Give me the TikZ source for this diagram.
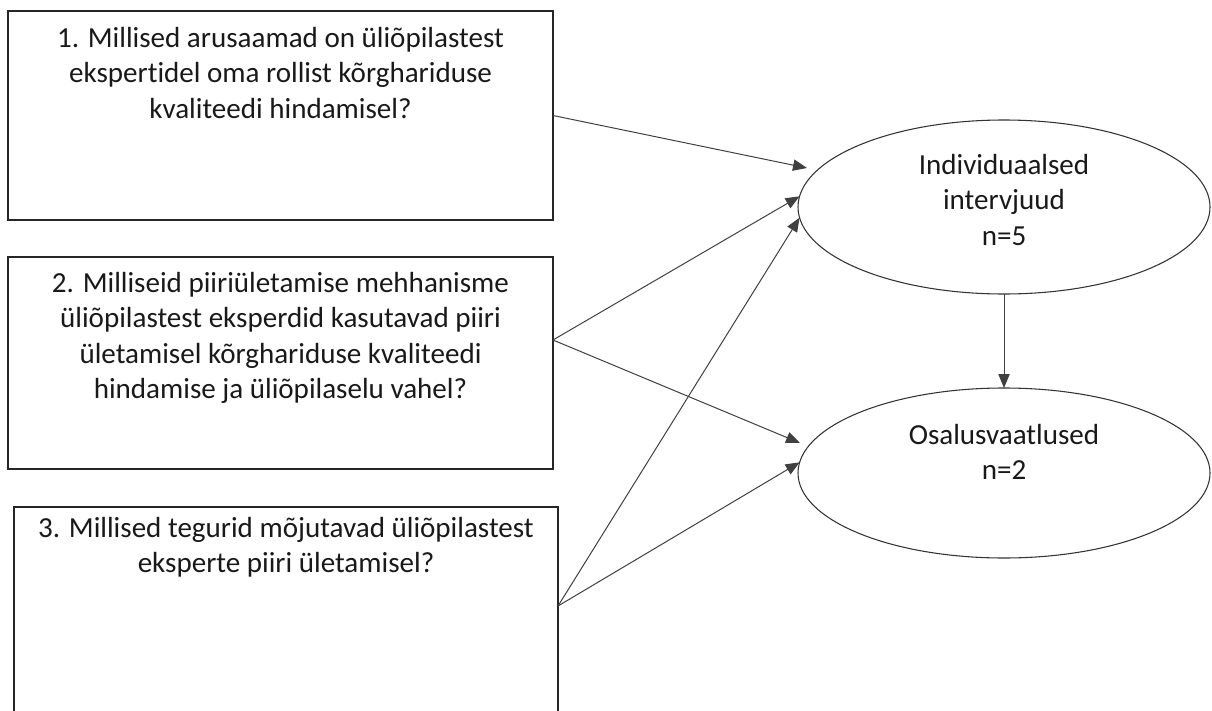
\documentclass[tikz,border=0pt]{standalone}
\usepackage{fontspec}
\setmainfont[Ligatures=NoCommon]{Carlito}
\usetikzlibrary{arrows.meta,shapes.geometric,calc}
\begin{document}
\begin{tikzpicture}[x=0.75pt,y=-0.75pt,
  qbox/.style={draw=black!85, line width=1.5pt, rectangle, inner sep=0pt, outer sep=0pt},
  qell/.style={draw=black!80, line width=0.8pt, ellipse, inner sep=0pt, outer sep=0pt, minimum width=309pt},
  qtext/.style={align=center, inner sep=0pt, anchor=north, font=\fontsize{21.8pt}{26.6pt}\selectfont, text=black!90},
  arr/.style={draw=black!75, line width=0.75pt, -{Triangle[length=10.5pt,width=8.5pt]}}]
\useasboundingbox (0,0) rectangle (1212,710);
\clip (0,0) rectangle (1212,710);
% boxes
\node[qbox, minimum width=408.75pt, minimum height=156.75pt] (b1) at (280.5,115.5) {};
\node[qbox, minimum width=408.75pt, minimum height=159pt] (b2) at (280.5,363) {};
\node[qbox, minimum width=408pt, minimum height=167pt] (b3) at (286,618.5) {};
% ellipses
\node[qell, minimum height=130.5pt] (e1) at (1004,207) {};
\node[qell, minimum height=127.5pt] (e2) at (1004,473) {};
% texts
\node[qtext] (tx1) at (280.5,27) {1. Millised arusaamad on üliõpilastest\\ekspertidel oma rollist kõrghariduse\\kvaliteedi hindamisel?};
\node[qtext] (tx2) at (280.5,272) {2. Milliseid piiriületamise mehhanisme\\üliõpilastest eksperdid kasutavad piiri\\ületamisel kõrghariduse kvaliteedi\\hindamise ja üliõpilaselu vahel?};
\node[qtext] (tx3) at (286,517) {3. Millised tegurid mõjutavad üliõpilastest\\eksperte piiri ületamisel?};
\node[qtext] (tx4) at (1004,154) {Individuaalsed\\intervjuud\\n=5};
\node[qtext] (tx5) at (1004,424) {Osalusvaatlused\\n=2};
% connector ends
\coordinate (p1) at (b1.east);
\coordinate (p2) at (b2.east |- 0,340);
\coordinate (p3) at (b3.east |- 0,606);
\coordinate (t1) at (807,168);
\coordinate (t2) at (800,443);
% connectors
\draw[arr] (p1) -- (t1);
\draw[arr] (p2) -- (e1.177);
\draw[arr] (p3) -- (e1.183);
\draw[arr] (p2) -- (t2);
\draw[arr] (p3) -- (e2.177);
\draw[arr] (e1.south) -- (e2.north);
\end{tikzpicture}
\end{document}
